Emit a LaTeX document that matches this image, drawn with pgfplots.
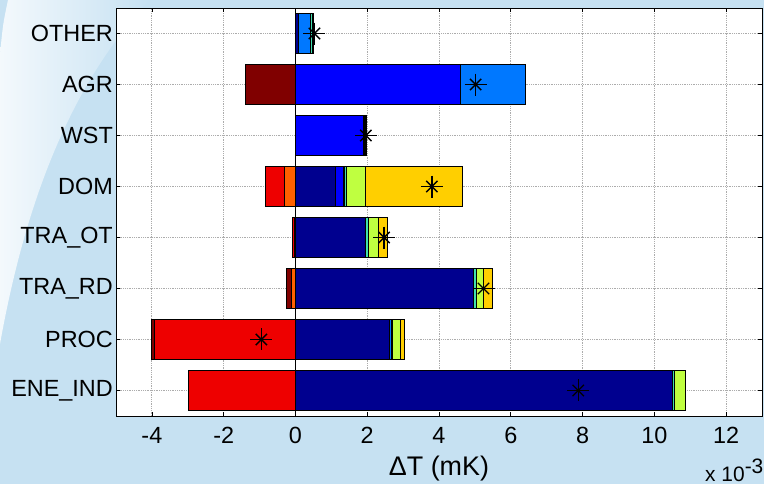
\documentclass[border=0pt]{standalone}
\usepackage{pgfplots}
\usepackage{pgfplotstable}
\pgfplotsset{compat=1.18}
\usepackage{fontspec}
\setmainfont{Liberation Sans}
\definecolor{bgblue}{RGB}{198,225,242}
\definecolor{cNavy}{RGB}{0,0,143}
\definecolor{cBlue}{RGB}{0,0,255}
\definecolor{cMed}{RGB}{0,120,255}
\definecolor{cCyan}{RGB}{64,224,176}
\definecolor{cGreen}{RGB}{191,255,64}
\definecolor{cYellow}{RGB}{255,207,0}
\definecolor{cOrange}{RGB}{255,96,0}
\definecolor{cRed}{RGB}{238,0,0}
\definecolor{cDark}{RGB}{128,0,0}

% positive contributions (x 10^-3 mK); y: 1 ENE_IND ... 8 OTHER
\pgfplotstableread{
y s1 s2 s3 s4 s5 s6
1 10.50 0 0 0.05 0.32 0
2 2.63 0 0.05 0.03 0.22 0.10
3 4.95 0 0 0.10 0.20 0.25
4 1.96 0 0 0.07 0.28 0.24
5 1.11 0.22 0.04 0.05 0.53 2.70
6 0 1.89 0.04 0.03 0.02 0
7 0 4.60 1.81 0 0 0
8 0.07 0 0.36 0.05 0.02 0
}\postab
% negative contributions
\pgfplotstableread{
y s7 s8 s9
1 0 -2.97 0
2 0 -3.92 -0.10
3 -0.11 0 -0.13
4 -0.03 -0.05 0
5 -0.30 -0.53 0
6 0 0 0
7 0 0 -1.39
8 0 0 0
}\negtab
% net values (asterisks)
\pgfplotstableread{
y v
1 7.88
2 -0.95
3 5.24
4 2.47
5 3.80
6 1.96
7 5.02
8 0.53
}\nettab

\pgfplotsset{common/.style={scale only axis, width=646bp, height=408bp,
  xmin=-5, xmax=13, ymin=0.5, ymax=8.5, at={(116bp,68bp)}, anchor=south west}}

\begin{document}
\begin{tikzpicture}
\path[use as bounding box] (0,0) rectangle (764bp,484bp);
\fill[bgblue] (0,0) rectangle (764bp,484bp);
\begin{scope}
\clip (8bp,484bp) -- (150bp,484bp) .. controls (70bp,400bp) and (25bp,280bp) .. (0bp,140bp) -- (0bp,430bp) .. controls (3bp,460bp) .. (8bp,484bp) -- cycle;
\shade[left color=white!80!bgblue, right color=bgblue] (0,140bp) rectangle (150bp,484bp);
\end{scope}
\begin{axis}[common,
  axis background/.style={fill=white},
  xbar stacked, bar width=0.8,
  xtick={-4,-2,0,2,4,6,8,10,12},
  xticklabels={-4,-2,0,2,4,6,8,10,12},
  ytick={1,2,3,4,5,6,7,8},
  yticklabels={ENE\_IND,PROC,TRA\_RD,TRA\_OT,DOM,WST,AGR,OTHER},
  tick align=inside, major tick length=4bp,
  tick style={black, line width=0.6bp},
  grid=major, grid style={gray!65, line width=0.8bp, densely dotted},
  axis line style={black, line width=0.9bp},
  tick label style={font=\fontsize{23.5}{23.5}\selectfont, text=black},
  yticklabel style={inner sep=0pt, xshift=-3bp},
  xticklabel style={inner sep=0pt, yshift=-11bp},
  xlabel={ΔT (mK)},
  xlabel style={font=\fontsize{27}{27}\selectfont, at={(axis description cs:0.5,0)}, anchor=base, inner sep=0pt, yshift=-59bp},
  every axis plot/.append style={draw=black, line width=0.9bp},
]
\addplot[fill=cNavy] table[x=s1,y=y] {\postab};
\addplot[fill=cBlue] table[x=s2,y=y] {\postab};
\addplot[fill=cMed] table[x=s3,y=y] {\postab};
\addplot[fill=cCyan] table[x=s4,y=y] {\postab};
\addplot[fill=cGreen] table[x=s5,y=y] {\postab};
\addplot[fill=cYellow] table[x=s6,y=y] {\postab};
\end{axis}
\begin{axis}[common, hide axis, xbar stacked, bar width=0.8,
  every axis plot/.append style={draw=black, line width=0.9bp}]
\addplot[fill=cOrange] table[x=s7,y=y] {\negtab};
\addplot[fill=cRed] table[x=s8,y=y] {\negtab};
\addplot[fill=cDark] table[x=s9,y=y] {\negtab};
\end{axis}
\begin{axis}[common, hide axis]
\addplot[black, line width=1bp] coordinates {(0,0.5) (0,8.5)};
\addplot[only marks, mark=+, mark size=11bp, mark options={line width=1.4bp, black}] table[x=v,y=y] {\nettab};
\addplot[only marks, mark=x, mark size=8bp, mark options={line width=1.4bp, black}] table[x=v,y=y] {\nettab};
\end{axis}
\node[anchor=base west, inner sep=0pt, font=\fontsize{21}{21}\selectfont] at (705bp,3bp) {x 10\raisebox{8bp}{-3}};
\end{tikzpicture}
\end{document}
